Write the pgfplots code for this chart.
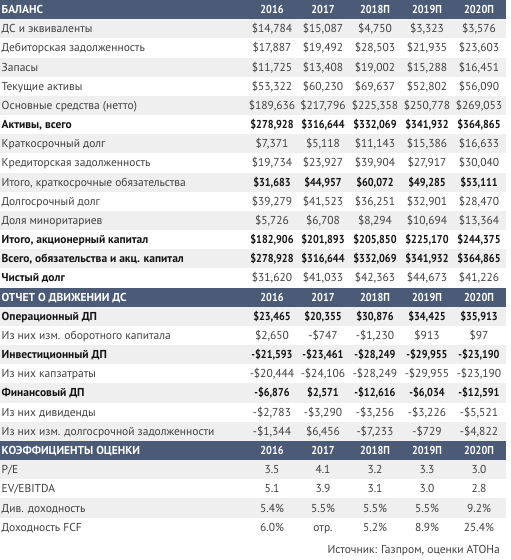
\documentclass[border=0pt]{standalone}
\usepackage{pgfplots}
\pgfplotsset{compat=1.18}
\usepackage{fontspec}
\setmainfont{PT Sans}
\newfontfamily\bnum{PT Sans}[FakeStretch=0.89]
\definecolor{hdr}{HTML}{4B5A77}
\definecolor{stripe}{HTML}{EFEFEF}
\definecolor{txt}{HTML}{404040}
\definecolor{btxt}{HTML}{151515}
\newcommand\rh{19.17}
\newcommand\fs{\fontsize{11.5}{13}\selectfont}
% row: index, label font, value font, label, v1..v5
\newcommand\R[9]{%
  \node[anchor=base west,inner sep=0pt,font=\fs#2] at (axis cs:1.5,{\rh*(#1+0.5)+4.0}) {#4};
  \node[anchor=base,inner sep=0pt,font=\fs#3] at (axis cs:272,{\rh*(#1+0.5)+4.0}) {#5};
  \node[anchor=base,inner sep=0pt,font=\fs#3] at (axis cs:323,{\rh*(#1+0.5)+4.0}) {#6};
  \node[anchor=base,inner sep=0pt,font=\fs#3] at (axis cs:375,{\rh*(#1+0.5)+4.0}) {#7};
  \node[anchor=base,inner sep=0pt,font=\fs#3] at (axis cs:427,{\rh*(#1+0.5)+4.0}) {#8};
  \node[anchor=base,inner sep=0pt,font=\fs#3] at (axis cs:479,{\rh*(#1+0.5)+4.0}) {#9};
}
\newcommand\Hd[2]{%
  \fill[hdr] (axis cs:0,{\rh*#1}) rectangle (axis cs:506,{\rh*(#1+1)});
  \R{#1}{\bfseries\color{white}}{\bnum\bfseries\color{white}}{#2}{2016}{2017}{2018П}{2019П}{2020П}
}
\newcommand\St[1]{\fill[stripe] (axis cs:0,{\rh*#1}) rectangle (axis cs:506,{\rh*(#1+1)});}
\newcommand\N{\color{txt}}
\newcommand\B{\bfseries\color{btxt}}
\newcommand\BV{\bnum\bfseries\color{btxt}}
\begin{document}
\begin{tikzpicture}
\begin{axis}[
  at={(0,0)}, anchor=south west,
  width=511pt, height=560pt, scale only axis,
  xmin=0, xmax=511, ymin=0, ymax=560, y dir=reverse,
  hide axis, clip=false]
\fill[white] (axis cs:0,0) rectangle (axis cs:511,560);
\St{1}\St{3}\St{5}\St{7}\St{9}\St{11}\St{13}
\St{16}\St{18}\St{20}\St{22}
\St{24}\St{26}
\Hd{0}{БАЛАНС}
\R{1}{\N}{\N}{ДС и эквиваленты}{\$14,784}{\$15,087}{\$4,750}{\$3,323}{\$3,576}
\R{2}{\N}{\N}{Дебиторская задолженность}{\$17,887}{\$19,492}{\$28,503}{\$21,935}{\$23,603}
\R{3}{\N}{\N}{Запасы}{\$11,725}{\$13,408}{\$19,002}{\$15,288}{\$16,451}
\R{4}{\N}{\N}{Текущие активы}{\$53,322}{\$60,230}{\$69,637}{\$52,802}{\$56,090}
\R{5}{\N}{\N}{Основные средства (нетто)}{\$189,636}{\$217,796}{\$225,358}{\$250,778}{\$269,053}
\R{6}{\B}{\BV}{Активы, всего}{\$278,928}{\$316,644}{\$332,069}{\$341,932}{\$364,865}
\R{7}{\N}{\N}{Краткосрочный долг}{\$7,371}{\$5,118}{\$11,143}{\$15,386}{\$16,633}
\R{8}{\N}{\N}{Кредиторская задолженность}{\$19,734}{\$23,927}{\$39,904}{\$27,917}{\$30,040}
\R{9}{\N}{\BV}{Итого, краткосрочные обязательства}{\$31,683}{\$44,957}{\$60,072}{\$49,285}{\$53,111}
\R{10}{\N}{\N}{Долгосрочный долг}{\$39,279}{\$41,523}{\$36,251}{\$32,901}{\$28,470}
\R{11}{\N}{\N}{Доля миноритариев}{\$5,726}{\$6,708}{\$8,294}{\$10,694}{\$13,364}
\R{12}{\B}{\BV}{Итого, акционерный капитал}{\$182,906}{\$201,893}{\$205,850}{\$225,170}{\$244,375}
\R{13}{\B}{\BV}{Всего, обязательства и акц. капитал}{\$278,928}{\$316,644}{\$332,069}{\$341,932}{\$364,865}
\R{14}{\B}{\N}{Чистый долг}{\$31,620}{\$41,033}{\$42,363}{\$44,673}{\$41,226}
\Hd{15}{ОТЧЕТ О ДВИЖЕНИИ ДС}
\R{16}{\B}{\BV}{Операционный ДП}{\$23,465}{\$20,355}{\$30,876}{\$34,425}{\$35,913}
\R{17}{\N}{\N}{Из них изм. оборотного капитала}{\$2,650}{-\$747}{-\$1,230}{\$913}{\$97}
\R{18}{\B}{\BV}{Инвестиционный ДП}{-\$21,593}{-\$23,461}{-\$28,249}{-\$29,955}{-\$23,190}
\R{19}{\N}{\N}{Из них капзатраты}{-\$20,444}{-\$24,106}{-\$28,249}{-\$29,955}{-\$23,190}
\R{20}{\B}{\BV}{Финансовый ДП}{-\$6,876}{\$2,571}{-\$12,616}{-\$6,034}{-\$12,591}
\R{21}{\N}{\N}{Из них дивиденды}{-\$2,783}{-\$3,290}{-\$3,256}{-\$3,226}{-\$5,521}
\R{22}{\N}{\N}{Из них изм. долгосрочной задолженности}{-\$1,344}{\$6,456}{-\$7,233}{-\$729}{-\$4,822}
\Hd{23}{КОЭФФИЦИЕНТЫ ОЦЕНКИ}
\R{24}{\N}{\N}{P/E}{3.5}{4.1}{3.2}{3.3}{3.0}
\R{25}{\N}{\N}{EV/EBITDA}{5.1}{3.9}{3.1}{3.0}{2.8}
\R{26}{\N}{\N}{Див. доходность}{5.4\%}{5.5\%}{5.5\%}{5.5\%}{9.2\%}
\R{27}{\N}{\N}{Доходность FCF}{6.0\%}{отр.}{5.2\%}{8.9\%}{25.4\%}
\node[anchor=base east,inner sep=0pt,font=\fs\color{txt}] at (axis cs:500,553) {Источник: Газпром, оценки АТОНа};
\end{axis}
\end{tikzpicture}
\end{document}
